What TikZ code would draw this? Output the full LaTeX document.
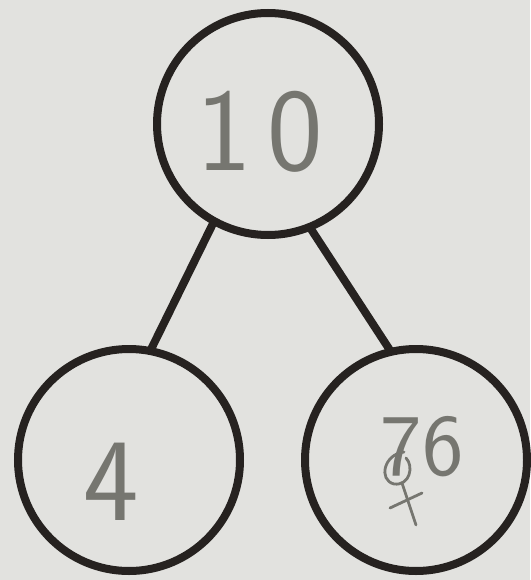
\documentclass[tikz,border=0pt]{standalone}
\usepackage{fontspec}
\definecolor{paper}{RGB}{226,226,223}
\definecolor{pen}{RGB}{38,34,32}
\definecolor{pencil}{RGB}{118,118,112}
\begin{document}
\begin{tikzpicture}[x=1pt,y=-1pt,
  bond/.style={circle,draw=pen,line width=8pt,minimum size=222pt,inner sep=0pt,outer sep=0pt},
  link/.style={draw=pen,line width=8pt},
  digits/.style={text=pencil,font=\sffamily\fontsize{118}{118}\selectfont,inner sep=0pt},
  scribble/.style={draw=pencil,line width=2.8pt,line cap=round,line join=round}]
\fill[paper] (0,0) rectangle (530,580);
\useasboundingbox (0,0) rectangle (530,580);
\node[bond] (top) at (268,124) {};
\node[bond] (left) at (129,460) {};
\node[bond] (right) at (416,460) {};
\draw[link] (top.241) -- (left.79);
\draw[link] (top.292) -- (right.103);
\node[digits] (t10) at (260,132) {1\kern16pt0};
\node[digits] (t4) at (111,482) {4};
\node[digits,font=\sffamily\fontsize{88}{88}\selectfont] (t76) at (422,447) {76};
\draw[scribble] (404,452) .. controls (384,454) and (378,480) .. (394,484)
  .. controls (410,486) and (414,466) .. (406,458);
\draw[scribble] (402,483) -- (416,525);
\draw[scribble] (390,508) -- (422,493);
\end{tikzpicture}
\end{document}
